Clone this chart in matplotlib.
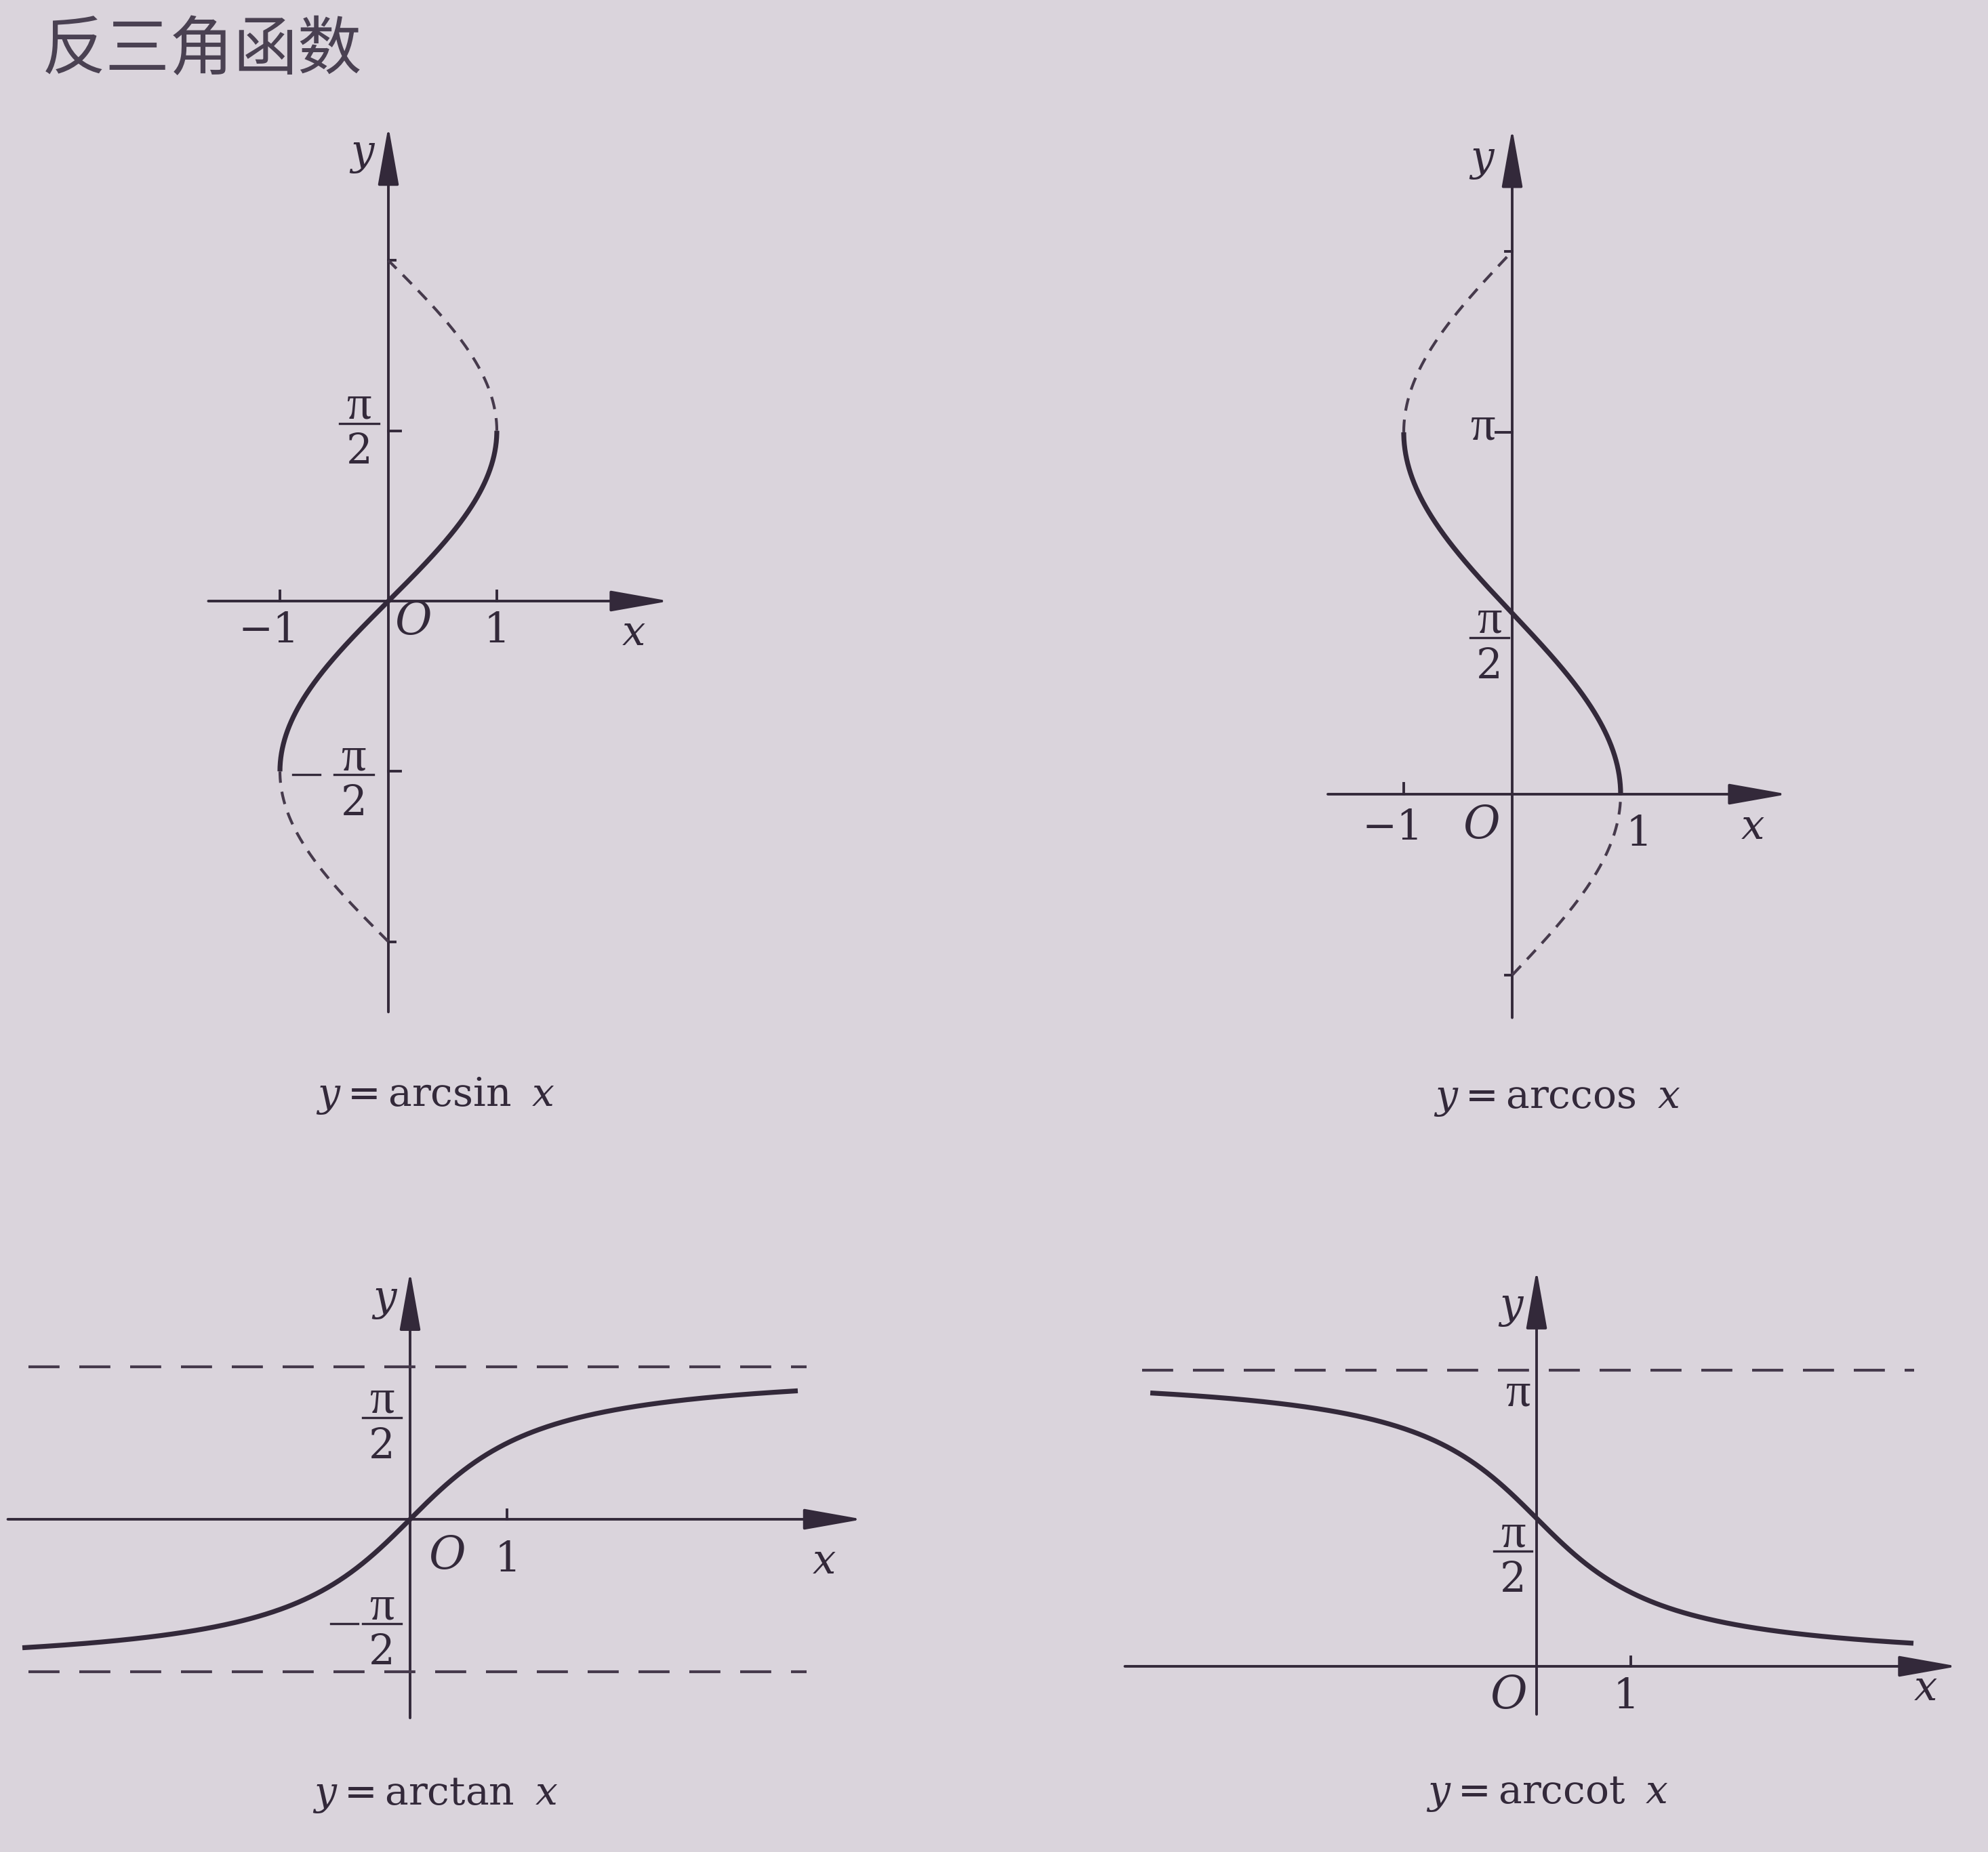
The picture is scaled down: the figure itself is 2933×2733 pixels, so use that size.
import numpy as np
import matplotlib
matplotlib.use('Agg')
import matplotlib.pyplot as plt

plt.rcParams['font.family'] = ['DejaVu Serif', 'DejaVu Sans']
plt.rcParams['mathtext.fontset'] = 'custom'
plt.rcParams['mathtext.rm'] = 'DejaVu Serif'
plt.rcParams['mathtext.it'] = 'DejaVu Serif:italic'
plt.rcParams['mathtext.bf'] = 'DejaVu Serif:bold'

PI = np.pi

# ---------------- data ----------------
title = '反三角函数'
caption_funcs = ['arcsin', 'arccos', 'arctan', 'arccot']

# arcsin: x = sin(y); solid branch and dashed extensions (y ranges)
arcsin_main = [-PI / 2, PI / 2]
arcsin_ext = [[PI / 2, PI], [-PI, -PI / 2]]
arcsin_xticks = [-1, 1]
arcsin_xlabels = ['\u22121', '1']
arcsin_yticks = [PI / 2, -PI / 2]

# arccos: x = cos(y)
arccos_main = [0, PI]
arccos_ext = [[PI, 3 * PI / 2], [-PI / 2, 0]]
arccos_xticks = [-1, 1]
arccos_xlabels = ['\u22121', '1']
arccos_yticks = [PI, 3 * PI / 2, -PI / 2]

# arctan / arccot: x range drawn and asymptotes
arctan_x = [-4.0, 4.0]
arctan_asym = [PI / 2, -PI / 2]
arccot_x = [-4.1, 4.0]
arccot_asym = [PI]
tan_xticks = [1]
cot_xticks = [1]

# ---------------- style / layout ----------------
W, H, DPI = 2933, 2733, 100
BG = '#dad4dc'
INK = '#33293a'
DASH = '#463a4c'
LW_AX, LW_CURVE, LW_DASH = 2.8, 5.2, 3.0
FS = 44
FS_CAP = 42
PI_FONT = ['Liberation Serif', 'DejaVu Serif']

fig = plt.figure(figsize=(W / DPI, H / DPI), dpi=DPI, facecolor=BG)

def panel(origin, sx, sy):
    ox, oy = origin
    ax = fig.add_axes([0, 0, 1, 1])
    ax.set_xlim(-ox / sx, (W - ox) / sx)
    ax.set_ylim(-(H - oy) / sy, oy / sy)
    ax.axis('off')
    ax.patch.set_alpha(0)
    return ax

def axes_lines(ax, xr, yr):
    ap = dict(arrowstyle='-|>,head_length=1.8,head_width=0.32', mutation_scale=30,
              lw=LW_AX, color=INK, shrinkA=0, shrinkB=0)
    ax.annotate('', xy=(xr[1], 0), xytext=(xr[0], 0), arrowprops=ap)
    ax.annotate('', xy=(0, yr[1]), xytext=(0, yr[0]), arrowprops=ap)

def xtick(ax, xs, h):
    for x in xs:
        ax.plot([x, x], [0, h], color=INK, lw=LW_AX)

def ytick(ax, ys, w):
    for y in ys:
        ax.plot([0, w], [y, y], color=INK, lw=LW_AX)

def lab(ax, x, y, s, italic=False, size=FS, family=None):
    kw = {}
    if family is not None:
        kw['family'] = family
    ax.text(x, y, s, ha='center', va='center', fontsize=size, color=INK,
            style='italic' if italic else 'normal', **kw)

def frac(ax, x, y, halfw, num='\u03c0', den='2', size=FS, minus_x=None):
    ax.plot([x - halfw, x + halfw], [y, y], color=INK, lw=2.4)
    ax.annotate(num, xy=(x, y), xytext=(0, 5), textcoords='offset points',
                ha='center', va='baseline', fontsize=size + 8, color=INK, family=PI_FONT)
    ax.annotate(den, xy=(x, y), xytext=(0, -43), textcoords='offset points',
                ha='center', va='baseline', fontsize=size, color=INK)
    if minus_x is not None:
        ax.plot([minus_x - halfw * 0.9, minus_x + halfw * 0.5], [y, y], color=INK, lw=2.4)

# ---------- arcsin ----------
ax = panel((573, 887), 160, 160)
axes_lines(ax, (-1.66, 2.59), (-3.79, 4.38))
yy = np.linspace(arcsin_main[0], arcsin_main[1], 300)
ax.plot(np.sin(yy), yy, color=INK, lw=LW_CURVE, solid_capstyle='butt', zorder=5)
for r in arcsin_ext:
    yy = np.linspace(r[0], r[1], 200)
    ax.plot(np.sin(yy), yy, color=DASH, lw=LW_DASH, ls=(0, (4.5, 3.2)), zorder=5)
xtick(ax, arcsin_xticks, 0.095)
ytick(ax, arcsin_yticks, 0.11)
ytick(ax, [PI, -PI], 0.06)
lab(ax, -1.10, -0.27, arcsin_xlabels[0])
lab(ax, 1.0, -0.27, arcsin_xlabels[1])
lab(ax, 0.23, -0.19, 'O', italic=True, size=48)
lab(ax, 2.26, -0.30, 'x', italic=True)
lab(ax, -0.24, 4.13, 'y', italic=True)
frac(ax, -0.27, 1.64, 0.18)
frac(ax, -0.32, -1.60, 0.18, minus_x=-0.72)

# ---------- arccos ----------
ax = panel((2231, 1172), 160, 170)
axes_lines(ax, (-1.70, 2.54), (-1.94, 5.78))
yy = np.linspace(arccos_main[0], arccos_main[1], 300)
ax.plot(np.cos(yy), yy, color=INK, lw=LW_CURVE, solid_capstyle='butt', zorder=5)
for r in arccos_ext:
    yy = np.linspace(r[0], r[1], 200)
    ax.plot(np.cos(yy), yy, color=DASH, lw=LW_DASH, ls=(0, (4.5, 3.2)), zorder=5)
xtick(ax, arccos_xticks, 0.095)
ytick(ax, arccos_yticks[:1], -0.15)
ytick(ax, arccos_yticks[1:], -0.06)
lab(ax, -1.10, -0.29, arccos_xlabels[0])
lab(ax, 1.17, -0.34, arccos_xlabels[1])
lab(ax, -0.28, -0.27, 'O', italic=True, size=48)
lab(ax, 2.22, -0.29, 'x', italic=True)
lab(ax, -0.28, 5.51, 'y', italic=True)
lab(ax, -0.27, PI + 0.04, '\u03c0', size=52, family=PI_FONT)
frac(ax, -0.21, 1.36, 0.18)

# ---------- arctan ----------
ax = panel((605, 2242), 143, 143)
axes_lines(ax, (-4.15, 4.67), (-2.05, 2.56))
for a in arctan_asym:
    ax.plot([-3.94, 4.09], [a, a], color=DASH, lw=LW_DASH, ls=(0, (11, 7)), zorder=3)
xx = np.linspace(arctan_x[0], arctan_x[1], 400)
ax.plot(xx, np.arctan(xx), color=INK, lw=LW_CURVE, solid_capstyle='butt', zorder=5)
xtick(ax, tan_xticks, 0.1)
lab(ax, 0.38, -0.38, 'O', italic=True, size=48)
lab(ax, 1.01, -0.41, '1')
lab(ax, 4.27, -0.44, 'x', italic=True)
lab(ax, -0.26, 2.27, 'y', italic=True)
frac(ax, -0.29, 1.05, 0.2)
frac(ax, -0.29, -1.08, 0.2, minus_x=-0.64)

# ---------- arccot ----------
ax = panel((2267, 2459), 139, 139)
axes_lines(ax, (-4.37, 4.47), (-0.51, 4.21))
for a in arccot_asym:
    ax.plot([-4.19, 4.01], [a, a], color=DASH, lw=LW_DASH, ls=(0, (11, 7)), zorder=3)
xx = np.linspace(arccot_x[0], arccot_x[1], 400)
ax.plot(xx, PI / 2 - np.arctan(xx), color=INK, lw=LW_CURVE, solid_capstyle='butt', zorder=5)
xtick(ax, cot_xticks, 0.1)
lab(ax, -0.30, -0.31, 'O', italic=True, size=48)
lab(ax, 0.95, -0.32, '1')
lab(ax, 4.13, -0.24, 'x', italic=True)
lab(ax, -0.27, 3.82, 'y', italic=True)
lab(ax, -0.20, 2.89, '\u03c0', size=52, family=PI_FONT)
frac(ax, -0.25, 1.22, 0.2)

# ---------- captions & title ----------
cap_pos = [(642, 1617), (2297, 1622), (642, 2650), (2283, 2648)]
for f, (cx, cy) in zip(caption_funcs, cap_pos):
    fig.text(cx / W, 1 - cy / H, r'$y=\mathrm{%s}\;\;x$' % f, ha='center', va='center',
             fontsize=FS_CAP, color=INK)

fig.text(62 / W, 1 - 75 / H, title, ha='left', va='center', fontsize=68,
         family=['Noto Sans CJK SC', 'DejaVu Sans'], color='#4a4152')

fig.savefig('out.png', dpi=DPI, facecolor=BG)
